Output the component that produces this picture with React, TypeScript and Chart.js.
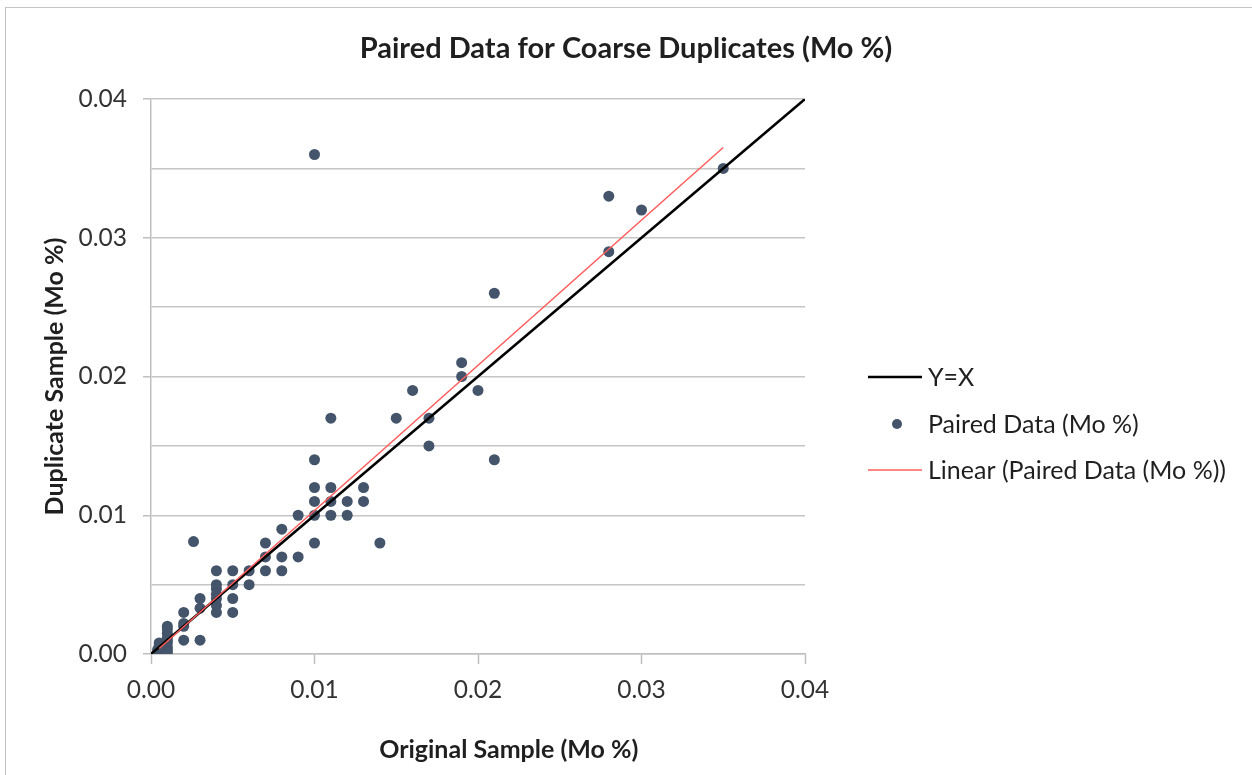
import React, { useEffect, useRef } from "react";
import { Chart, registerables } from "chart.js";

Chart.register(...registerables);

const chartTitle = "Paired Data for Coarse Duplicates (Mo %)";
const xAxisTitle = "Original Sample (Mo %)";
const yAxisTitle = "Duplicate Sample (Mo %)";

const identityX = [0, 0.04];
const identityY = [0, 0.04];

const trendX = [0.0005, 0.035];
const trendY = [0.0004, 0.0365];

const originalSample = [
  0.0005, 0.0005, 0.0005, 0.0005, 0.0005, 0.0004,
  0.001, 0.001, 0.001, 0.001, 0.001, 0.001, 0.001, 0.001, 0.001,
  0.002, 0.002, 0.002, 0.002,
  0.003, 0.003, 0.003,
  0.0026,
  0.004, 0.004, 0.004, 0.004, 0.004, 0.004, 0.004,
  0.005, 0.005, 0.005, 0.005,
  0.006, 0.006,
  0.007, 0.007, 0.007,
  0.008, 0.008, 0.008,
  0.009, 0.009,
  0.01, 0.01, 0.01, 0.01, 0.01, 0.01,
  0.011, 0.011, 0.011, 0.011,
  0.012, 0.012,
  0.013, 0.013,
  0.014,
  0.015,
  0.016,
  0.017, 0.017,
  0.019, 0.019,
  0.02,
  0.021, 0.021,
  0.028, 0.028,
  0.03,
  0.035,
];

const duplicateSample = [
  0.0008, 0.0006, 0.0004, 0.0002, 0.0001, 0.0003,
  0.002, 0.0018, 0.0015, 0.0012, 0.001, 0.0008, 0.0005, 0.0003, 0.0001,
  0.003, 0.0022, 0.002, 0.001,
  0.004, 0.0033, 0.001,
  0.0081,
  0.006, 0.005, 0.0047, 0.0043, 0.004, 0.0035, 0.003,
  0.006, 0.005, 0.004, 0.003,
  0.006, 0.005,
  0.008, 0.007, 0.006,
  0.009, 0.007, 0.006,
  0.01, 0.007,
  0.036, 0.014, 0.012, 0.011, 0.01, 0.008,
  0.017, 0.012, 0.011, 0.01,
  0.011, 0.01,
  0.012, 0.011,
  0.008,
  0.017,
  0.019,
  0.017, 0.015,
  0.021, 0.02,
  0.019,
  0.026, 0.014,
  0.033, 0.029,
  0.032,
  0.035,
];

const seriesLabels = ["Y=X", "Paired Data (Mo %)", "Linear (Paired Data (Mo %))"];

const FONT = "Lato";
const TEXT = "#1f1f1f";
const TICK_TEXT = "#333333";
const AXIS_GRAY = "#bfbfbf";

const overlayPlugin = {
  id: "overlay",
  afterDraw(chart: any) {
    const ctx = chart.ctx;
    const area = chart.chartArea;
    ctx.save();
    // x axis title
    ctx.fillStyle = TEXT;
    ctx.font = `bold 25px ${FONT}`;
    ctx.textAlign = "center";
    ctx.textBaseline = "middle";
    ctx.fillText(xAxisTitle, area.left + (area.right - area.left) * 0.547, 750);

    // legend
    const ds = chart.data.datasets;
    const lx = area.right + 63;
    const tx = lx + 60;
    const ys = [377, 424, 470];
    ctx.font = `25px ${FONT}`;
    ctx.textAlign = "left";
    ds.forEach((d: any, i: number) => {
      const y = ys[i];
      if (d.type === "scatter") {
        ctx.beginPath();
        ctx.fillStyle = d.backgroundColor;
        ctx.arc(lx + 29, y, 5, 0, Math.PI * 2);
        ctx.fill();
      } else {
        ctx.beginPath();
        ctx.strokeStyle = d.borderColor;
        ctx.lineWidth = d.borderWidth;
        ctx.moveTo(lx, y);
        ctx.lineTo(lx + 54, y);
        ctx.stroke();
      }
      ctx.fillStyle = TEXT;
      ctx.fillText(d.label, tx, y + 1);
    });
    ctx.restore();
  },
};

const isMajor = (v: number) => Math.abs(v * 100 - Math.round(v * 100)) < 1e-6;

export default function App() {
  const ref = useRef<HTMLCanvasElement | null>(null);

  useEffect(() => {
    if (!ref.current) return;
    const chart = new Chart(ref.current, {
      data: {
        datasets: [
          {
            type: "line",
            label: seriesLabels[0],
            data: identityX.map((x, i) => ({ x, y: identityY[i] })),
            borderColor: "#000000",
            backgroundColor: "#000000",
            borderWidth: 2.5,
            pointRadius: 0,
            order: 2,
          },
          {
            type: "scatter",
            label: seriesLabels[1],
            data: originalSample.map((x, i) => ({ x, y: duplicateSample[i] })),
            backgroundColor: "#44546a",
            borderColor: "#44546a",
            pointRadius: 5.5,
            pointBorderWidth: 0,
            order: 3,
          },
          {
            type: "line",
            label: seriesLabels[2],
            data: trendX.map((x, i) => ({ x, y: trendY[i] })),
            borderColor: "#ff5b5b",
            backgroundColor: "#ff5b5b",
            borderWidth: 1.5,
            pointRadius: 0,
            order: 1,
          },
        ],
      } as any,
      options: {
        animation: false,
        responsive: false,
        devicePixelRatio: 1,
        layout: { padding: 0 },
        plugins: {
          legend: { display: false },
          tooltip: { enabled: false },
          title: {
            display: true,
            text: chartTitle,
            color: TEXT,
            font: { family: FONT, size: 29, weight: "bold" },
            padding: { top: 31, bottom: 33.2 },
          },
        },
        scales: {
          x: {
            type: "linear",
            position: "bottom",
            min: 0,
            max: 0.04,
            afterFit: (s: any) => {
              s.height = 121;
            },
            ticks: {
              stepSize: 0.01,
              color: TICK_TEXT,
              font: { family: FONT, size: 24.5 },
              padding: 11,
              callback: (v: any) => Number(v).toFixed(2),
            },
            grid: {
              drawOnChartArea: false,
              drawTicks: true,
              tickLength: 10,
              tickColor: AXIS_GRAY,
              tickWidth: 1.5,
            },
            border: { color: AXIS_GRAY, width: 1.5 },
          },
          y: {
            type: "linear",
            position: "left",
            min: 0,
            max: 0.04,
            afterFit: (s: any) => {
              s.width = 151;
            },
            ticks: {
              stepSize: 0.005,
              color: TICK_TEXT,
              font: { family: FONT, size: 24.5 },
              padding: 16,
              callback: (v: any) => (isMajor(Number(v)) ? Number(v).toFixed(2) : ""),
            },
            grid: {
              color: "#c6c6c6",
              lineWidth: 1.5,
              drawTicks: true,
              tickLength: 8,
              tickWidth: 1.5,
              tickColor: (c: any) =>
                c.tick && isMajor(c.tick.value) ? AXIS_GRAY : "rgba(0,0,0,0)",
            },
            border: { color: AXIS_GRAY, width: 1.5 },
            title: {
              display: true,
              text: yAxisTitle,
              color: TEXT,
              font: { family: FONT, size: 25, weight: "bold" },
              padding: { top: 40, bottom: 0 },
            },
          },
          legendSpace: {
            type: "linear",
            position: "right",
            display: true,
            afterFit: (s: any) => {
              s.width = 447;
            },
            ticks: { display: false },
            grid: { display: false, drawTicks: false },
            border: { display: false },
          },
        },
      } as any,
      plugins: [overlayPlugin],
    });
    return () => chart.destroy();
  }, []);

  return (
    <div
      style={{
        position: "fixed",
        left: 0,
        top: 0,
        width: 1252,
        height: 775,
        background: "#ffffff",
        overflow: "hidden",
      }}
    >
      <canvas ref={ref} width={1252} height={775} style={{ width: 1252, height: 775, display: "block" }} />
      <div
        style={{
          position: "absolute",
          left: 5,
          top: 7,
          width: 1400,
          height: 900,
          border: "1.5px solid #c4c4c4",
          pointerEvents: "none",
        }}
      />
    </div>
  );
}
